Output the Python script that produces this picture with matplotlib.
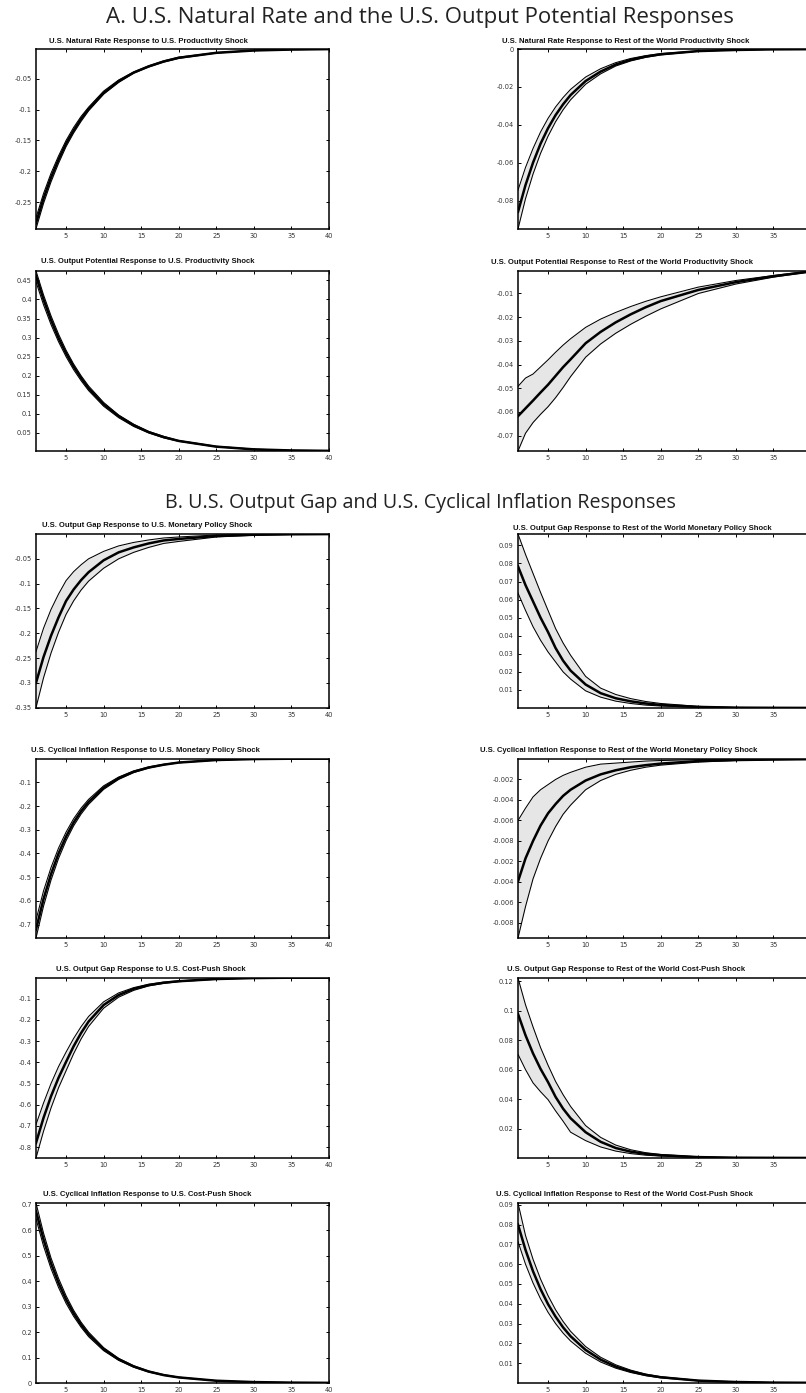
import matplotlib
matplotlib.use("Agg")
import matplotlib.pyplot as plt

# ---------------- data ----------------
horizon = [1, 2, 3, 4, 5, 6, 7, 8, 10, 12, 14, 16, 18, 20, 25, 30, 35, 40]

# A1: U.S. natural rate <- U.S. productivity
nr_us_med = [-0.284, -0.244, -0.210, -0.181, -0.155, -0.134, -0.115, -0.099, -0.073, -0.054, -0.040, -0.030, -0.022, -0.016, -0.0080, -0.0042, -0.0027, -0.0020]
nr_us_hi = [-0.275, -0.236, -0.203, -0.175, -0.150, -0.129, -0.111, -0.096, -0.070, -0.052, -0.039, -0.029, -0.021, -0.015, -0.0076, -0.0040, -0.0025, -0.0018]
nr_us_lo = [-0.293, -0.252, -0.217, -0.187, -0.160, -0.138, -0.119, -0.102, -0.075, -0.056, -0.041, -0.031, -0.023, -0.017, -0.0084, -0.0044, -0.0029, -0.0022]

# A2: U.S. natural rate <- RoW productivity
nr_row_med = [-0.0860, -0.0718, -0.0600, -0.0500, -0.0418, -0.0349, -0.0292, -0.0243, -0.0169, -0.0119, -0.0082, -0.0057, -0.0040, -0.0028, -0.0011, -0.0005, -0.0002, -0.0001]
nr_row_hi = [-0.0745, -0.0625, -0.0525, -0.0438, -0.0366, -0.0306, -0.0256, -0.0213, -0.0148, -0.0104, -0.0072, -0.0050, -0.0035, -0.0024, -0.0010, -0.0004, -0.0002, -0.0001]
nr_row_lo = [-0.0950, -0.0790, -0.0660, -0.0551, -0.0460, -0.0384, -0.0321, -0.0268, -0.0186, -0.0131, -0.0090, -0.0063, -0.0044, -0.0031, -0.0012, -0.0005, -0.0002, -0.0001]

# A3: U.S. output potential <- U.S. productivity
yp_us_med = [0.462, 0.400, 0.346, 0.299, 0.259, 0.224, 0.194, 0.167, 0.125, 0.094, 0.070, 0.052, 0.039, 0.029, 0.014, 0.0069, 0.0040, 0.0030]
yp_us_hi = [0.475, 0.412, 0.357, 0.309, 0.267, 0.231, 0.200, 0.173, 0.130, 0.097, 0.073, 0.054, 0.041, 0.030, 0.015, 0.0075, 0.0045, 0.0035]
yp_us_lo = [0.446, 0.386, 0.334, 0.289, 0.250, 0.216, 0.187, 0.161, 0.120, 0.090, 0.067, 0.050, 0.037, 0.028, 0.0135, 0.0065, 0.0035, 0.0026]

# A4: U.S. output potential <- RoW productivity
yp_row_med = [-0.0618, -0.0585, -0.0552, -0.0518, -0.0485, -0.0448, -0.0411, -0.0378, -0.0310, -0.0262, -0.0222, -0.0188, -0.0158, -0.0132, -0.0085, -0.0052, -0.0027, -0.0007]
yp_row_hi = [-0.0492, -0.0457, -0.0440, -0.0410, -0.0380, -0.0348, -0.0318, -0.0291, -0.0243, -0.0208, -0.0180, -0.0155, -0.0133, -0.0114, -0.0073, -0.0045, -0.0024, -0.0005]
yp_row_lo = [-0.0765, -0.0690, -0.0645, -0.0610, -0.0578, -0.0540, -0.0497, -0.0451, -0.0369, -0.0313, -0.0268, -0.0230, -0.0196, -0.0165, -0.0100, -0.0060, -0.0031, -0.0008]

# B1: U.S. output gap <- U.S. monetary policy
gap_us_mp_med = [-0.300, -0.248, -0.205, -0.168, -0.135, -0.112, -0.093, -0.077, -0.053, -0.037, -0.027, -0.019, -0.013, -0.010, -0.004, -0.0015, -0.0006, -0.0002]
gap_us_mp_hi = [-0.237, -0.190, -0.152, -0.121, -0.094, -0.076, -0.062, -0.050, -0.035, -0.024, -0.017, -0.012, -0.008, -0.006, -0.002, -0.0008, -0.0003, -0.0001]
gap_us_mp_lo = [-0.350, -0.290, -0.240, -0.198, -0.162, -0.135, -0.113, -0.095, -0.069, -0.050, -0.037, -0.027, -0.019, -0.015, -0.006, -0.0025, -0.0010, -0.0003]

# B2: U.S. output gap <- RoW monetary policy
gap_row_mp_med = [0.0784, 0.0680, 0.0590, 0.0500, 0.0420, 0.0332, 0.0262, 0.0207, 0.0130, 0.0082, 0.0054, 0.0037, 0.0025, 0.0017, 0.0006, 0.0002, 0.0001, 0.00005]
gap_row_mp_hi = [0.0963, 0.0850, 0.0745, 0.0640, 0.0540, 0.0440, 0.0360, 0.0292, 0.0175, 0.0110, 0.0075, 0.0052, 0.0036, 0.0025, 0.0009, 0.0003, 0.0001, 0.00005]
gap_row_mp_lo = [0.0636, 0.0540, 0.0450, 0.0375, 0.0310, 0.0255, 0.0200, 0.0160, 0.0095, 0.0060, 0.0038, 0.0025, 0.0016, 0.0011, 0.0004, 0.0001, 0.00005, 0.00002]

# B3: U.S. cyclical inflation <- U.S. monetary policy
inf_us_mp_med = [-0.720, -0.592, -0.487, -0.400, -0.329, -0.270, -0.222, -0.183, -0.123, -0.083, -0.056, -0.038, -0.026, -0.017, -0.0063, -0.0023, -0.0008, -0.0003]
inf_us_mp_hi = [-0.680, -0.558, -0.459, -0.377, -0.310, -0.254, -0.209, -0.172, -0.115, -0.078, -0.052, -0.035, -0.024, -0.016, -0.0058, -0.0021, -0.0007, -0.0003]
inf_us_mp_lo = [-0.756, -0.622, -0.512, -0.421, -0.346, -0.284, -0.234, -0.193, -0.130, -0.088, -0.059, -0.040, -0.027, -0.018, -0.0067, -0.0025, -0.0009, -0.0003]

# B4: U.S. cyclical inflation <- RoW monetary policy
inf_row_mp_med = [-0.01195, -0.0097, -0.0080, -0.0065, -0.0053, -0.0044, -0.0036, -0.0030, -0.0021, -0.0015, -0.0011, -0.0008, -0.0006, -0.00045, -0.0002, -0.0001, -0.00005, -0.00002]
inf_row_mp_hi = [-0.0060, -0.0048, -0.0037, -0.0030, -0.0025, -0.0020, -0.0016, -0.0013, -0.0008, -0.0005, -0.0004, -0.0003, -0.0002, -0.00015, -0.00006, -0.00003, -0.00001, 0.0]
inf_row_mp_lo = [-0.01747, -0.0144, -0.0117, -0.0097, -0.0080, -0.0066, -0.0054, -0.0045, -0.0030, -0.0021, -0.0015, -0.0011, -0.0008, -0.0006, -0.0003, -0.00015, -0.00007, -0.00003]

# B5: U.S. output gap <- U.S. cost-push
gap_us_cp_med = [-0.780, -0.662, -0.560, -0.473, -0.398, -0.325, -0.262, -0.208, -0.130, -0.083, -0.054, -0.036, -0.025, -0.018, -0.0075, -0.0030, -0.0012, -0.0005]
gap_us_cp_hi = [-0.693, -0.592, -0.500, -0.420, -0.352, -0.288, -0.232, -0.184, -0.115, -0.073, -0.048, -0.032, -0.022, -0.016, -0.0066, -0.0027, -0.0011, -0.0004]
gap_us_cp_lo = [-0.851, -0.725, -0.615, -0.520, -0.440, -0.360, -0.290, -0.231, -0.145, -0.093, -0.061, -0.040, -0.028, -0.020, -0.0085, -0.0034, -0.0014, -0.0006]

# B6: U.S. output gap <- RoW cost-push
gap_row_cp_med = [0.0978, 0.0833, 0.0710, 0.0605, 0.0515, 0.0415, 0.0335, 0.0270, 0.0175, 0.0110, 0.0068, 0.0043, 0.0028, 0.0019, 0.0006, 0.0002, 0.0001, 0.00004]
gap_row_cp_hi = [0.1222, 0.1040, 0.0890, 0.0750, 0.0630, 0.0520, 0.0430, 0.0350, 0.0220, 0.0140, 0.0088, 0.0056, 0.0036, 0.0024, 0.0008, 0.0003, 0.0001, 0.00005]
gap_row_cp_lo = [0.0704, 0.0600, 0.0510, 0.0450, 0.0396, 0.0320, 0.0250, 0.0175, 0.0118, 0.0075, 0.0047, 0.0030, 0.0019, 0.0013, 0.0004, 0.0001, 0.00005, 0.00002]

# B7: U.S. cyclical inflation <- U.S. cost-push
inf_us_cp_med = [0.675, 0.564, 0.470, 0.393, 0.328, 0.274, 0.229, 0.191, 0.133, 0.093, 0.065, 0.045, 0.031, 0.022, 0.0089, 0.0036, 0.0015, 0.0006]
inf_us_cp_hi = [0.707, 0.589, 0.491, 0.411, 0.343, 0.286, 0.239, 0.200, 0.139, 0.097, 0.068, 0.047, 0.033, 0.023, 0.0093, 0.0038, 0.0016, 0.0006]
inf_us_cp_lo = [0.645, 0.538, 0.449, 0.375, 0.313, 0.262, 0.219, 0.182, 0.127, 0.089, 0.062, 0.043, 0.030, 0.021, 0.0085, 0.0034, 0.0014, 0.0006]

# B8: U.S. cyclical inflation <- RoW cost-push
inf_row_cp_med = [0.0800, 0.0672, 0.0564, 0.0474, 0.0398, 0.0335, 0.0281, 0.0236, 0.0167, 0.0118, 0.0083, 0.0059, 0.0041, 0.0029, 0.0012, 0.0005, 0.0002, 0.0001]
inf_row_cp_hi = [0.0909, 0.0745, 0.0625, 0.0525, 0.0441, 0.0370, 0.0311, 0.0261, 0.0184, 0.0130, 0.0092, 0.0065, 0.0045, 0.0032, 0.0013, 0.0006, 0.0002, 0.0001]
inf_row_cp_lo = [0.0714, 0.0600, 0.0505, 0.0425, 0.0357, 0.0300, 0.0252, 0.0212, 0.0150, 0.0106, 0.0075, 0.0053, 0.0037, 0.0026, 0.0011, 0.0004, 0.0002, 0.0001]

panel_titles = [
    "U.S. Natural Rate Response to U.S. Productivity Shock",
    "U.S. Natural Rate Response to Rest of the World Productivity Shock",
    "U.S. Output Potential Response to U.S. Productivity Shock",
    "U.S. Output Potential Response to Rest of the World Productivity Shock",
    "U.S. Output Gap Response to U.S. Monetary Policy Shock",
    "U.S. Output Gap Response to Rest of the World Monetary Policy Shock",
    "U.S. Cyclical Inflation Response to U.S. Monetary Policy Shock",
    "U.S. Cyclical Inflation Response to Rest of the World Monetary Policy Shock",
    "U.S. Output Gap Response to U.S. Cost-Push Shock",
    "U.S. Output Gap Response to Rest of the World Cost-Push Shock",
    "U.S. Cyclical Inflation Response to U.S. Cost-Push Shock",
    "U.S. Cyclical Inflation Response to Rest of the World Cost-Push Shock",
]

section_titles = ["A. U.S. Natural Rate and the U.S. Output Potential Responses",
                  "B. U.S. Output Gap and U.S. Cyclical Inflation Responses"]

xtick_values = [5, 10, 15, 20, 25, 30, 35, 40]
xtick_labels_left = ["5", "10", "15", "20", "25", "30", "35", "40"]
xtick_labels_right = ["5", "10", "15", "20", "25", "30", "35", ""]  # 40 falls outside the page

ytick_values = [
    [-0.25, -0.2, -0.15, -0.1, -0.05],
    [-0.08, -0.06, -0.04, -0.02, 0.0],
    [0.05, 0.1, 0.15, 0.2, 0.25, 0.3, 0.35, 0.4, 0.45],
    [-0.07, -0.06, -0.05, -0.04, -0.03, -0.02, -0.01],
    [-0.35, -0.3, -0.25, -0.2, -0.15, -0.1, -0.05],
    [0.01, 0.02, 0.03, 0.04, 0.05, 0.06, 0.07, 0.08, 0.09],
    [-0.7, -0.6, -0.5, -0.4, -0.3, -0.2, -0.1],
    [-0.016, -0.014, -0.012, -0.010, -0.008, -0.006, -0.004, -0.002],
    [-0.8, -0.7, -0.6, -0.5, -0.4, -0.3, -0.2, -0.1],
    [0.02, 0.04, 0.06, 0.08, 0.1, 0.12],
    [0.0, 0.1, 0.2, 0.3, 0.4, 0.5, 0.6, 0.7],
    [0.01, 0.02, 0.03, 0.04, 0.05, 0.06, 0.07, 0.08, 0.09],
]
ytick_labels = [
    ["-0.25", "-0.2", "-0.15", "-0.1", "-0.05"],
    ["-0.08", "-0.06", "-0.04", "-0.02", "0"],
    ["0.05", "0.1", "0.15", "0.2", "0.25", "0.3", "0.35", "0.4", "0.45"],
    ["-0.07", "-0.06", "-0.05", "-0.04", "-0.03", "-0.02", "-0.01"],
    ["-0.35", "-0.3", "-0.25", "-0.2", "-0.15", "-0.1", "-0.05"],
    ["0.01", "0.02", "0.03", "0.04", "0.05", "0.06", "0.07", "0.08", "0.09"],
    ["-0.7", "-0.6", "-0.5", "-0.4", "-0.3", "-0.2", "-0.1"],
    ["-0.008", "-0.006", "-0.004", "-0.002", "-0.008", "-0.006", "-0.004", "-0.002"],
    ["-0.8", "-0.7", "-0.6", "-0.5", "-0.4", "-0.3", "-0.2", "-0.1"],
    ["0.02", "0.04", "0.06", "0.08", "0.1", "0.12"],
    ["0", "0.1", "0.2", "0.3", "0.4", "0.5", "0.6", "0.7"],
    ["0.01", "0.02", "0.03", "0.04", "0.05", "0.06", "0.07", "0.08", "0.09"],
]
ylims = [
    (-0.2934, -0.0018), (-0.095, 0.0), (0.0026, 0.4746), (-0.0765, -0.0005),
    (-0.3507, 0.0), (0.0, 0.0963), (-0.756, -0.002), (-0.01747, 0.0),
    (-0.851, -0.0027), (0.0, 0.1222), (0.0, 0.707), (0.0, 0.0909),
]

series = [
    (nr_us_med, nr_us_lo, nr_us_hi),
    (nr_row_med, nr_row_lo, nr_row_hi),
    (yp_us_med, yp_us_lo, yp_us_hi),
    (yp_row_med, yp_row_lo, yp_row_hi),
    (gap_us_mp_med, gap_us_mp_lo, gap_us_mp_hi),
    (gap_row_mp_med, gap_row_mp_lo, gap_row_mp_hi),
    (inf_us_mp_med, inf_us_mp_lo, inf_us_mp_hi),
    (inf_row_mp_med, inf_row_mp_lo, inf_row_mp_hi),
    (gap_us_cp_med, gap_us_cp_lo, gap_us_cp_hi),
    (gap_row_cp_med, gap_row_cp_lo, gap_row_cp_hi),
    (inf_us_cp_med, inf_us_cp_lo, inf_us_cp_hi),
    (inf_row_cp_med, inf_row_cp_lo, inf_row_cp_hi),
]

# ---------------- layout (pixels) ----------------
W, H = 806, 1393
col_x = [36, 518]
ax_w = 293
row_tb = [(49, 229), (271, 451), (534, 708), (759, 938), (978, 1158), (1203, 1383)]
title_pos = [(148, 41.7), (626, 41.7), (148, 261.7), (622, 262.7), (147, 525.7), (642, 528.3),
             (145, 750.7), (619, 750.7), (151, 969.3), (626, 969.3), (147, 1195), (624, 1195)]
section_pos = [(420, 18), (420, 503)]
section_size = [16, 14.2]

fig = plt.figure(figsize=(W / 100, H / 100), dpi=100)
fig.patch.set_facecolor("white")

for i, (med, lo, hi) in enumerate(series):
    r, c = divmod(i, 2)
    top, bot = row_tb[r]
    ax = fig.add_axes([col_x[c] / W, 1 - bot / H, ax_w / W, (bot - top) / H])
    ax.fill_between(horizon, lo, hi, color="#e6e6e6", linewidth=0, zorder=1)
    ax.plot(horizon, lo, color="black", lw=0.75, zorder=2)
    ax.plot(horizon, hi, color="black", lw=0.75, zorder=2)
    ax.plot(horizon, med, color="black", lw=1.8, zorder=3)
    ax.set_xlim(1, 40)
    ax.set_ylim(*ylims[i])
    ax.set_xticks(xtick_values)
    ax.set_xticklabels(xtick_labels_left if c == 0 else xtick_labels_right)
    ax.set_yticks(ytick_values[i])
    ax.set_yticklabels(ytick_labels[i])
    ax.tick_params(direction="in", length=2.5, width=0.7, top=True, right=True,
                   labelsize=4.8, labelcolor="#333333", pad=3)
    for s in ax.spines.values():
        s.set_linewidth(1.1)
    tx, ty = title_pos[i]
    fig.text(tx / W, 1 - ty / H, panel_titles[i], ha="center", va="center",
             fontsize=5.5, fontweight="bold", family="Liberation Sans", color="#111111")

for k, txt in enumerate(section_titles):
    sx, sy = section_pos[k]
    fig.text(sx / W, 1 - sy / H, txt, ha="center", va="center", fontsize=section_size[k],
             family="Open Sans", color="#222222")

fig.savefig("out.png", dpi=100, facecolor="white")
